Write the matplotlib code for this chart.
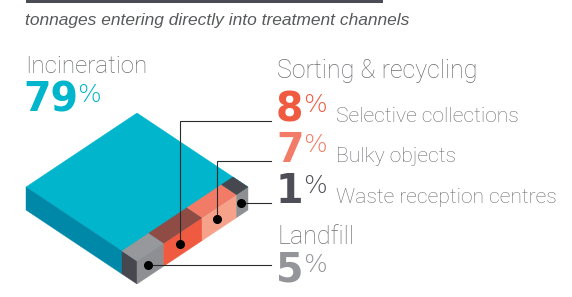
import numpy as np
import matplotlib.pyplot as plt
from matplotlib.patches import Polygon, Rectangle

# ---------------------------------------------------------------- data
subtitle = "tonnages entering directly into treatment channels"
main_label = "Incineration"
main_value = 79
group_label = "Sorting & recycling"
landfill_label = "Landfill"
# strip segments, from the front corner towards the right corner
strip_names = ["Landfill", "Selective collections", "Bulky objects", "Waste reception centres"]
strip_values = [5, 8, 7, 1]

# ---------------------------------------------------------------- styles
TEAL_TOP = "#00b5cc"
TEAL_SIDE = "#0088a9"
TEXT_GREY = "#6d6e71"
DARK = "#46474f"
top_colors = ["#97989c", "#8e4c45", "#f27b67", "#46474f"]
face_colors = ["#8e8f93", "#ef5a40", "#f6a189", "#8e8f93"]
num_colors = ["#939598", "#ef5a40", "#f37c68", "#4d4e57"]
LABEL_FONT = "Roboto"
NUM_FONT = "DejaVu Sans"

# isometric slab geometry (pixel space)
FX, FY = 137, 261      # front corner of the top face
HW, HH = 111, 74
THICK = 23
DEPTH = 0.135          # depth of the coloured strip


def iso(u, v, z=0.0):
    return (FX + HW * (u - v), FY - HH * (u + v) + THICK * z)


def face(ax, pts, color):
    ax.add_patch(Polygon(pts, closed=True, facecolor=color, edgecolor=color, lw=0.3))


def number(ax, x, y, value, color):
    t = ax.text(x, y, str(value), fontsize=28.5, color=color, family=NUM_FONT,
                weight="bold", va="baseline")
    ax.annotate("%", xy=(1, 1), xycoords=t, xytext=(-0.5, -1.5), textcoords="offset points",
                fontsize=18, color=color, family=NUM_FONT, weight="light", va="top")
    return t


###########################################################################
fig = plt.figure(figsize=(5.72, 2.97), dpi=100)
ax = fig.add_axes([0, 0, 1, 1])
ax.set_xlim(0, 572)
ax.set_ylim(297, 0)
ax.axis("off")

# header bar and subtitle
ax.add_patch(Rectangle((26, 0), 357, 3.3, facecolor="#4a4c55", lw=0))
ax.text(25, 25, subtitle, fontsize=12.5, style="italic", color="#58595b",
        family="Liberation Sans", va="baseline")

# slab: top + front-left face
face(ax, [iso(0, 0), iso(1, 0), iso(1, 1), iso(0, 1)], TEAL_TOP)
face(ax, [iso(0, DEPTH), iso(0, 1), iso(0, 1, 1), iso(0, DEPTH, 1)], TEAL_SIDE)
face(ax, [iso(0, 0), iso(0, DEPTH), iso(0, DEPTH, 1), iso(0, 0, 1)], DARK)

# strip segments (small shares get a minimum visible width)
vals = np.array(strip_values, dtype=float)
widths = (vals + 2) / (vals + 2).sum()
edges = np.concatenate([[0], np.cumsum(widths)])
dots = []
for i in range(len(vals)):
    a, b = edges[i], edges[i + 1]
    face(ax, [iso(a, 0), iso(b, 0), iso(b, 0, 1), iso(a, 0, 1)], face_colors[i])
    face(ax, [iso(a, 0), iso(b, 0), iso(b, DEPTH), iso(a, DEPTH)], top_colors[i])
    dots.append(iso(a + 0.42 * (b - a), 0, 0.5))

# left text block
ax.text(25, 72.7, main_label, fontsize=17.4, color=TEXT_GREY, family=LABEL_FONT,
        weight="light", va="baseline")
number(ax, 23, 111.7, main_value, TEAL_TOP)

# right text block
ax.text(277, 78.3, group_label, fontsize=18, color=TEXT_GREY, family=LABEL_FONT,
        weight="light", va="baseline")
ax.text(277, 244, landfill_label, fontsize=18, color=TEXT_GREY, family=LABEL_FONT,
        weight="light", va="baseline")

# rows: (segment index, baseline y, show name beside the number)
rows = [(1, 121.7, True), (2, 161.7, True), (3, 203.3, True), (0, 281.7, False)]
line_y = {1: 121, 2: 161, 3: None, 0: None}
for i, base, named in rows:
    number(ax, 276, base, strip_values[i], num_colors[i])
    if named:
        ax.text(336, base, strip_names[i], fontsize=15.25, color=TEXT_GREY,
                family=LABEL_FONT, weight="light", va="baseline")

    # leader line from the segment dot
    dx, dy = dots[i]
    if line_y[i] is None:
        xs, ys = [dx, 271], [dy, dy]
    else:
        xs, ys = [dx, dx, 271], [dy, line_y[i], line_y[i]]
    ax.plot(xs, ys, color="#2b2b2b", lw=0.8, solid_joinstyle="miter")
    ax.plot(dx, dy, "o", color="black", ms=5.5)

fig.savefig("out.png", dpi=100)
